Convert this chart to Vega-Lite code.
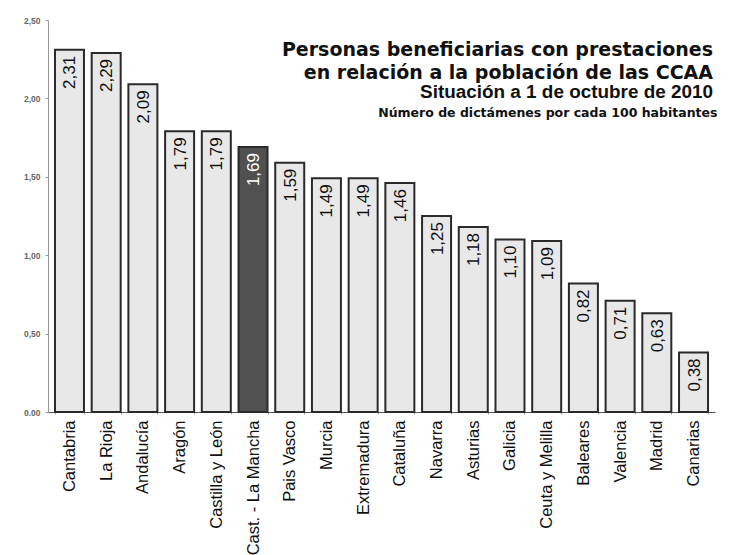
{
  "$schema": "https://vega.github.io/schema/vega-lite/v6.json",
  "autosize": {"type": "none"},
  "width": 667,
  "height": 392,
  "padding": {"left": 48, "top": 20, "right": 24, "bottom": 143},
  "background": "white",
  "config": {
    "font": "Liberation Sans",
    "view": {"stroke": null},
    "locale": {
      "number": {"decimal": ",", "thousands": ".", "grouping": [3], "currency": ["", " €"]}
    }
  },
  "title": {
    "text": ["Personas beneficiarias con prestaciones", "en relación a la población de las CCAA"],
    "subtitle": "Situación a 1 de octubre de 2010",
    "anchor": "end",
    "frame": "group",
    "orient": "top",
    "offset": -85.5,
    "dx": -2,
    "font": "DejaVu Sans",
    "fontSize": 19,
    "fontWeight": "bold",
    "lineHeight": 22.3,
    "color": "#111111",
    "subtitleFont": "Liberation Sans",
    "subtitleFontSize": 18.9,
    "subtitleFontWeight": "bold",
    "subtitleColor": "#111111",
    "subtitlePadding": 0
  },
  "data": {
    "values": [
      {"ccaa": "Cantabria", "valor": 2.31},
      {"ccaa": "La Rioja", "valor": 2.29},
      {"ccaa": "Andalucía", "valor": 2.09},
      {"ccaa": "Aragón", "valor": 1.79},
      {"ccaa": "Castilla y León", "valor": 1.79},
      {"ccaa": "Cast. - La Mancha", "valor": 1.69},
      {"ccaa": "Pais Vasco", "valor": 1.59},
      {"ccaa": "Murcia", "valor": 1.49},
      {"ccaa": "Extremadura", "valor": 1.49},
      {"ccaa": "Cataluña", "valor": 1.46},
      {"ccaa": "Navarra", "valor": 1.25},
      {"ccaa": "Asturias", "valor": 1.18},
      {"ccaa": "Galicia", "valor": 1.10},
      {"ccaa": "Ceuta y Melilla", "valor": 1.09},
      {"ccaa": "Baleares", "valor": 0.82},
      {"ccaa": "Valencia", "valor": 0.71},
      {"ccaa": "Madrid", "valor": 0.63},
      {"ccaa": "Canarias", "valor": 0.38}
    ]
  },
  "encoding": {
    "x": {
      "field": "ccaa",
      "type": "nominal",
      "sort": null,
      "scale": {"paddingInner": 0.21, "paddingOuter": 0.19},
      "axis": {
        "title": null,
        "labelAngle": 270,
        "labelFontSize": 16.5,
        "labelColor": "#111111",
        "labelPadding": 6,
        "domainColor": "#555555",
        "domainWidth": 1.2,
        "tickBand": "extent",
        "tickSize": 2,
        "tickColor": "#999999"
      }
    },
    "y": {
      "field": "valor",
      "type": "quantitative",
      "scale": {"domain": [0, 2.5], "nice": false},
      "axis": {
        "title": "Número de dictámenes por cada 100 habitantes",
        "titleAngle": 0,
        "titleAlign": "right",
        "titleBaseline": "alphabetic",
        "titleX": 669,
        "titleY": 96,
        "titleFont": "DejaVu Sans",
        "titleFontSize": 12.5,
        "titleFontWeight": "bold",
        "titleColor": "#111111",
        "values": [0, 0.5, 1, 1.5, 2, 2.5],
        "labelExpr": "datum.value == 0 ? '0.00' : format(datum.value, '.2f')",
        "grid": false,
        "labelFontSize": 8.5,
        "labelFontWeight": "bold",
        "labelColor": "#666666",
        "labelPadding": 5,
        "domainColor": "#999999",
        "tickColor": "#999999",
        "tickSize": 3
      }
    }
  },
  "layer": [
    {
      "mark": {"type": "bar", "stroke": "#2a2a2a", "strokeWidth": 2},
      "encoding": {
        "fill": {
          "condition": {"test": "datum.ccaa == 'Cast. - La Mancha'", "value": "#505050"},
          "value": "#e8e8e8"
        }
      }
    },
    {
      "mark": {"type": "text", "angle": 270, "align": "right", "baseline": "middle", "dx": -6, "dy": 1, "fontSize": 17},
      "encoding": {
        "text": {"field": "valor", "type": "quantitative", "format": ".2f"},
        "color": {
          "condition": {"test": "datum.ccaa == 'Cast. - La Mancha'", "value": "#ffffff"},
          "value": "#111111"
        }
      }
    }
  ]
}
